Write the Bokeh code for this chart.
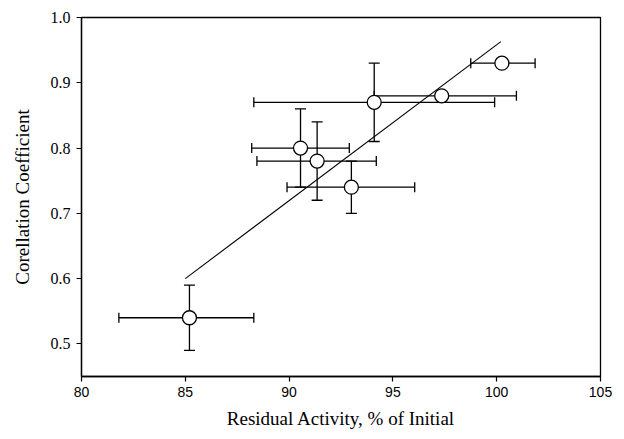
from bokeh.plotting import figure
from bokeh.models import ColumnDataSource, Whisker, TeeHead, Range1d, FixedTicker, NumeralTickFormatter
from bokeh.embed import file_html
from bokeh.resources import INLINE

# Data
x = [85.2, 90.55, 91.35, 93.0, 94.1, 97.35, 100.25]
y = [0.54, 0.80, 0.78, 0.74, 0.87, 0.88, 0.93]
x_lo = [81.8, 88.2, 88.45, 89.9, 88.3, 94.1, 98.75]
x_hi = [88.3, 92.9, 94.2, 96.05, 99.9, 100.95, 101.85]
y_lo = [0.49, 0.74, 0.72, 0.70, 0.81, 0.88, 0.93]
y_hi = [0.59, 0.86, 0.84, 0.78, 0.93, 0.88, 0.93]

fit_x = [85.0, 100.2]
fit_y = [0.60, 0.963]

x_ticks = [80, 85, 90, 95, 100, 105]
y_ticks = [0.5, 0.6, 0.7, 0.8, 0.9, 1.0]

src = ColumnDataSource(dict(x=x, y=y, x_lo=x_lo, x_hi=x_hi, y_lo=y_lo, y_hi=y_hi))

p = figure(width=616, height=431, output_backend="svg", toolbar_location=None,
           x_range=Range1d(80, 105), y_range=Range1d(0.45, 1.0),
           min_border_left=81, min_border_right=16, min_border_top=17, min_border_bottom=54)

p.background_fill_color = "white"
p.border_fill_color = "white"
p.outline_line_color = "black"
p.outline_line_width = 1.3
p.xgrid.visible = False
p.ygrid.visible = False

# regression line
p.line(fit_x, fit_y, line_color="black", line_width=1.1)

# error bars
wx = Whisker(source=src, base="y", lower="x_lo", upper="x_hi", dimension="width",
             line_color="black", line_width=1.3,
             upper_head=TeeHead(size=10, line_color="black", line_width=1.3),
             lower_head=TeeHead(size=10, line_color="black", line_width=1.3))
wy = Whisker(source=src, base="x", lower="y_lo", upper="y_hi", dimension="height",
             line_color="black", line_width=1.3,
             upper_head=TeeHead(size=11, line_color="black", line_width=1.3),
             lower_head=TeeHead(size=11, line_color="black", line_width=1.3))
p.add_layout(wx)
p.add_layout(wy)

p.scatter("x", "y", source=src, marker="circle", size=14, fill_color="white",
          line_color="black", line_width=1.3)

# axes
p.xaxis.ticker = FixedTicker(ticks=x_ticks)
p.yaxis.ticker = FixedTicker(ticks=y_ticks)
p.yaxis.formatter = NumeralTickFormatter(format="0.0")
for ax in (p.xaxis, p.yaxis):
    ax.minor_tick_line_color = None
    ax.major_tick_in = 0
    ax.major_tick_out = 5
    ax.axis_line_width = 1.3
    ax.major_tick_line_width = 1.2
    ax.axis_line_color = "black"
    ax.major_tick_line_color = "black"
    ax.major_label_text_color = "black"
    ax.axis_label_text_color = "black"
    ax.axis_label_text_font = "Liberation Serif"
    ax.axis_label_text_font_size = "19px"
    ax.axis_label_text_font_style = "normal"

p.xaxis.major_label_text_font = "Liberation Sans"
p.xaxis.major_label_text_font_size = "14px"
p.xaxis.major_label_standoff = 5
p.xaxis.axis_label = "Residual Activity, % of Initial"
p.xaxis.axis_label_standoff = 8

p.yaxis.major_label_text_font = "Liberation Serif"
p.yaxis.major_label_text_font_size = "16px"
p.yaxis.major_label_standoff = 6
p.yaxis.axis_label = "Corellation Coefficient"
p.yaxis.axis_label_standoff = 15

open("out.html", "w").write(file_html(p, INLINE))
